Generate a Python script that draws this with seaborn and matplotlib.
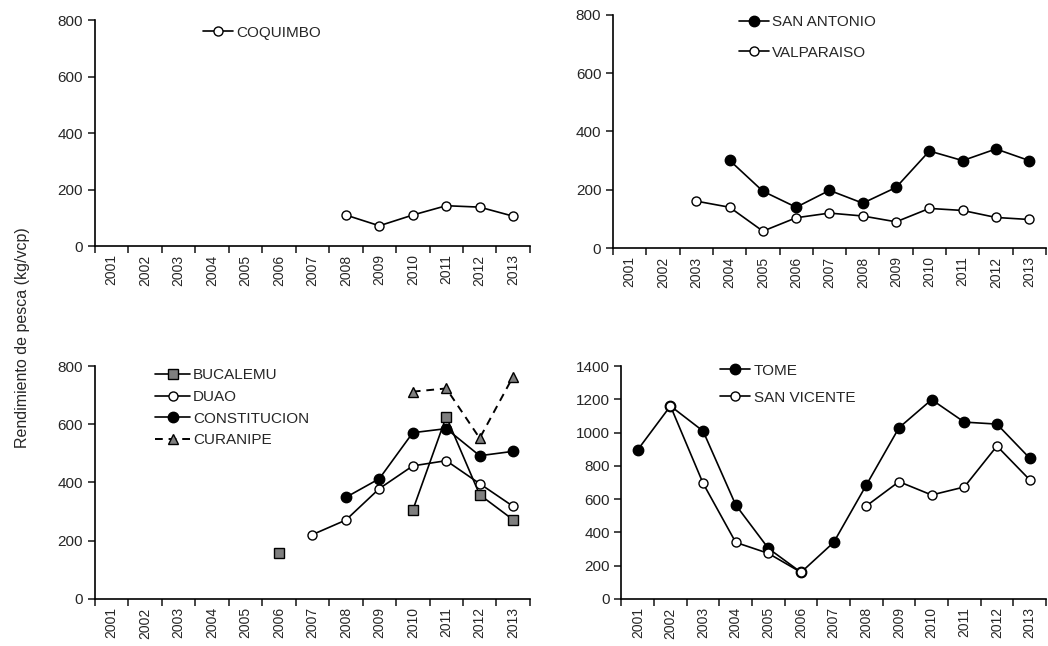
import numpy as np
import pandas as pd
import matplotlib
matplotlib.use("Agg")
import matplotlib.pyplot as plt
import seaborn as sns

nan = np.nan

# Data (kg/vcp per year)
years = [str(y) for y in range(2001, 2014)]

coquimbo = [nan, nan, nan, nan, nan, nan, nan, 110, 72, 110, 143, 138, 106]
san_antonio = [nan, nan, nan, 301, 195, 140, 198, 154, 208, 333, 300, 340, 300]
valparaiso = [nan, nan, 161, 140, 58, 104, 120, 110, 90, 136, 129, 105, 98]
bucalemu = [nan, nan, nan, nan, nan, 157, nan, nan, nan, 305, 626, 358, 272]
duao = [nan, nan, nan, nan, nan, nan, 221, 271, 379, 457, 475, 396, 318]
constitucion = [nan, nan, nan, nan, nan, nan, nan, 349, 413, 571, 585, 492, 507]
curanipe = [nan, nan, nan, nan, nan, nan, nan, nan, nan, 712, 723, 552, 764]
tome = [897, 1160, 1009, 565, 304, 160, 340, 685, 1029, 1198, 1063, 1051, 847]
san_vicente = [nan, 1160, 695, 340, 274, 160, nan, 559, 705, 625, 673, 919, 717]

sns.set_theme(style="ticks")
plt.rcParams["font.family"] = ["Liberation Sans", "DejaVu Sans"]
plt.rcParams["axes.linewidth"] = 1.2

OPEN = dict(marker="o", markersize=6.5, markerfacecolor="white",
            markeredgecolor="black", markeredgewidth=1.0, color="black", linewidth=1.2)
FILLED = dict(marker="o", markersize=7.5, markerfacecolor="black",
              markeredgecolor="black", markeredgewidth=1.0, color="black", linewidth=1.2)
SQUARE = dict(marker="s", markersize=7, markerfacecolor="#7f7f7f",
              markeredgecolor="black", markeredgewidth=1.0, color="black", linewidth=1.2)
TRIANGLE = dict(marker="^", markersize=6.5, markerfacecolor="#7f7f7f",
                markeredgecolor="black", markeredgewidth=1.0, color="black",
                linewidth=1.4, dashes=(4, 3))


def draw(ax, values, name, style):
    df = pd.DataFrame({"pos": np.arange(len(values)), "val": values})
    # break the line where a year is missing
    df["seg"] = df["val"].isna().cumsum()
    df = df.dropna()
    sns.lineplot(data=df, x="pos", y="val", units="seg", estimator=None,
                 ax=ax, label=name, legend=False, **style)


def setup(ax, ymax):
    ax.set_xlim(-0.5, len(years) - 0.5)
    ax.set_ylim(0, ymax)
    ax.set_yticks(np.arange(0, ymax + 1, 200))
    ax.set_xticks(np.arange(-0.5, len(years), 1.0))
    ax.set_xticklabels([])
    ax.set_xticks(np.arange(len(years)), minor=True)
    ax.set_xticklabels(years, minor=True, rotation=90, fontsize=10)
    ax.tick_params(axis="x", which="major", direction="out", length=5, width=1.2)
    ax.tick_params(axis="x", which="minor", length=0, pad=6)
    ax.tick_params(axis="y", direction="out", length=5, width=1.2, labelsize=11)
    ax.set_xlabel("")
    ax.set_ylabel("")
    for s in ["top", "right"]:
        ax.spines[s].set_visible(False)
    for s in ["left", "bottom"]:
        ax.spines[s].set_color("black")


def legend(ax, anchor, spacing, hlen=2.0):
    handles, labels = ax.get_legend_handles_labels()
    uniq = dict(zip(labels, handles))
    ax.legend(uniq.values(), uniq.keys(), loc="upper left", bbox_to_anchor=anchor,
              frameon=False, fontsize=11, handlelength=hlen, handletextpad=0.2,
              labelspacing=spacing, borderpad=0, borderaxespad=0)


fig = plt.figure(figsize=(10.48, 6.46), dpi=100)
ax1 = fig.add_axes([0.0906, 0.619, 0.415, 0.350])
ax2 = fig.add_axes([0.585, 0.616, 0.413, 0.361])
ax3 = fig.add_axes([0.0906, 0.0728, 0.415, 0.3606])
ax4 = fig.add_axes([0.593, 0.0728, 0.405, 0.3606])

draw(ax1, coquimbo, "COQUIMBO", OPEN)
setup(ax1, 800)
legend(ax1, (0.248, 0.975), 0.5)

draw(ax2, san_antonio, "SAN ANTONIO", FILLED)
draw(ax2, valparaiso, "VALPARAISO", OPEN)
setup(ax2, 800)
legend(ax2, (0.29, 1.0), 1.1)

draw(ax3, bucalemu, "BUCALEMU", SQUARE)
draw(ax3, duao, "DUAO", OPEN)
draw(ax3, constitucion, "CONSTITUCION", FILLED)
draw(ax3, curanipe, "CURANIPE", TRIANGLE)
setup(ax3, 800)
legend(ax3, (0.138, 0.99), 0.5, hlen=2.3)

draw(ax4, tome, "TOME", FILLED)
draw(ax4, san_vicente, "SAN VICENTE", OPEN)
setup(ax4, 1400)
legend(ax4, (0.232, 1.01), 0.85)

fig.text(0.021, 0.477, "Rendimiento de pesca (kg/vcp)", rotation=90,
         ha="center", va="center", fontsize=11.5)

fig.savefig("out.png", dpi=100)
